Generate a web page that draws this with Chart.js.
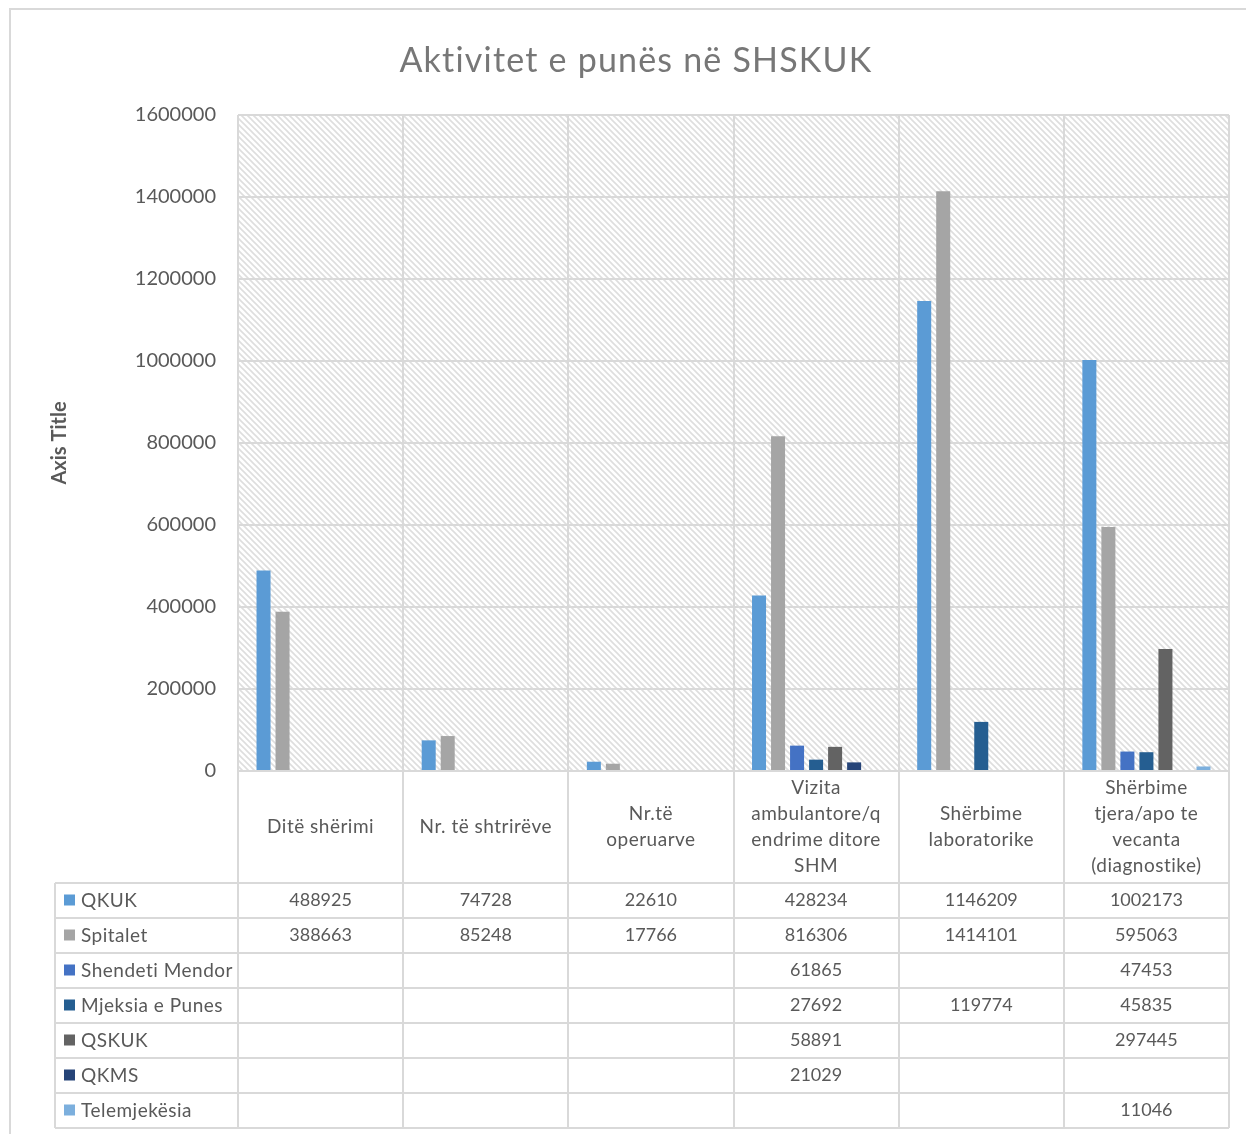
<!DOCTYPE html>
<html>
<head>
<meta charset="utf-8">
<script src="https://cdn.jsdelivr.net/npm/chart.js@4.4.1/dist/chart.umd.min.js"></script>
<style>
html,body{margin:0;padding:0;background:#fff;}
#wrap{width:1246px;height:1134px;position:relative;}
</style>
</head>
<body>
<div id="wrap"><canvas id="c" width="1246" height="1134"></canvas></div>
<script>
const chartTitle = 'Aktivitet e punës në SHSKUK';
const yAxisTitle = 'Axis Title';
const categories = [
  ['Ditë shërimi'],
  ['Nr. të shtrirëve'],
  ['Nr.të', 'operuarve'],
  ['Vizita', 'ambulantore/q', 'endrime ditore', 'SHM'],
  ['Shërbime', 'laboratorike'],
  ['Shërbime', 'tjera/apo te', 'vecanta', '(diagnostike)']
];
const seriesNames = ['QKUK', 'Spitalet', 'Shendeti Mendor', 'Mjeksia e Punes', 'QSKUK', 'QKMS', 'Telemjekësia'];
const qkuk      = [488925, 74728, 22610, 428234, 1146209, 1002173];
const spitalet  = [388663, 85248, 17766, 816306, 1414101, 595063];
const shendeti  = [null, null, null, 61865, null, 47453];
const mjeksia   = [null, null, null, 27692, 119774, 45835];
const qskuk     = [null, null, null, 58891, null, 297445];
const qkms      = [null, null, null, 21029, null, null];
const telemj    = [null, null, null, null, null, 11046];
const yTicks = [0, 200000, 400000, 600000, 800000, 1000000, 1200000, 1400000, 1600000];
const seriesColors = ['#5B9BD5', '#A5A5A5', '#4472C4', '#255E91', '#636363', '#264478', '#7CAFDD'];
const seriesData = [qkuk, spitalet, shendeti, mjeksia, qskuk, qkms, telemj];

const FONT = 'Lato, "Open Sans", sans-serif';
const TEXT = '#595959';
const GRID = '#d9d9d9';

function makeHatch(ctx){
  const s = 6;
  const c = document.createElement('canvas');
  c.width = s; c.height = s;
  const g = c.getContext('2d');
  g.fillStyle = '#ffffff'; g.fillRect(0,0,s,s);
  g.strokeStyle = '#dedede'; g.lineWidth = 1.6;
  g.beginPath();
  g.moveTo(-1,-1); g.lineTo(s+1,s+1);
  g.moveTo(s-1,-1); g.lineTo(s+1,1);
  g.moveTo(-1,s-1); g.lineTo(1,s+1);
  g.stroke();
  return ctx.createPattern(c,'repeat');
}

const TABLE_TOP = 883, ROW_H = 35, LEG_LEFT = 55;

const custom = {
  id: 'custom',
  beforeDraw(chart){
    const ctx = chart.ctx, a = chart.chartArea;
    ctx.save();
    ctx.fillStyle = '#fff';
    ctx.fillRect(0,0,chart.width,chart.height);
    ctx.strokeStyle = GRID; ctx.lineWidth = 2;
    ctx.strokeRect(10, 9, 1270, 1160);
    ctx.fillStyle = makeHatch(ctx);
    ctx.fillRect(a.left, a.top, a.right-a.left, a.bottom-a.top);
    // title
    ctx.fillStyle = '#777777';
    ctx.font = '34px ' + FONT;
    ctx.letterSpacing = '1.2px';
    ctx.textAlign = 'center'; ctx.textBaseline = 'alphabetic';
    ctx.fillText(chartTitle, 636, 72);
    ctx.restore();
  },
  afterDraw(chart){
    const ctx = chart.ctx, a = chart.chartArea, x = chart.scales.x;
    const n = categories.length;
    const half = (x.getPixelForValue(1) - x.getPixelForValue(0)) / 2;
    const tableBottom = TABLE_TOP + ROW_H * seriesNames.length;
    ctx.save();
    ctx.strokeStyle = GRID; ctx.lineWidth = 2;
    ctx.beginPath();
    for (let i = 0; i <= n; i++){
      const px = Math.round(i < n ? x.getPixelForValue(i) - half : x.getPixelForValue(n-1) + half);
      ctx.moveTo(px, a.top); ctx.lineTo(px, tableBottom);
    }
    ctx.moveTo(LEG_LEFT, TABLE_TOP); ctx.lineTo(LEG_LEFT, tableBottom);
    for (let r = 0; r <= seriesNames.length; r++){
      const py = TABLE_TOP + r * ROW_H;
      ctx.moveTo(LEG_LEFT, py); ctx.lineTo(a.right, py);
    }
    ctx.moveTo(a.left, a.bottom); ctx.lineTo(a.right, a.bottom);
    ctx.stroke();
    // category labels
    ctx.fillStyle = TEXT;
    ctx.font = '19px ' + FONT;
    ctx.letterSpacing = '0.5px';
    ctx.textAlign = 'center'; ctx.textBaseline = 'middle';
    const midY = (a.bottom + TABLE_TOP) / 2;
    const lh = 26;
    categories.forEach((lines, i) => {
      const cx = x.getPixelForValue(i);
      const start = midY - (lines.length - 1) * lh / 2;
      lines.forEach((t, k) => ctx.fillText(t, cx, start + k * lh));
    });
    // table rows
    seriesNames.forEach((name, r) => {
      const cy = TABLE_TOP + r * ROW_H + ROW_H / 2;
      ctx.fillStyle = seriesColors[r];
      ctx.fillRect(64, cy - 6, 11, 11);
      ctx.fillStyle = TEXT;
      ctx.textAlign = 'left';
      ctx.font = '19px ' + FONT;
      ctx.letterSpacing = '0.5px';
      ctx.fillText(name, 81, cy);
      ctx.textAlign = 'center';
      ctx.font = '18px ' + FONT;
      ctx.letterSpacing = '0px';
      seriesData[r].forEach((v, i) => {
        if (v !== null) ctx.fillText(String(v), x.getPixelForValue(i), cy);
      });
    });
    ctx.restore();
  }
};

new Chart(document.getElementById('c'), {
  type: 'bar',
  data: {
    labels: categories.map(l => l.join(' ')),
    datasets: seriesNames.map((name, i) => ({
      label: name,
      data: seriesData[i],
      backgroundColor: seriesColors[i],
      borderWidth: 0,
      categoryPercentage: 0.806,
      barPercentage: 0.737
    }))
  },
  options: {
    responsive: false,
    animation: false,
    devicePixelRatio: 1,
    layout: { padding: { left: 10, right: 17, top: 115, bottom: 6 } },
    plugins: { legend: { display: false }, title: { display: false }, tooltip: { enabled: false } },
    scales: {
      x: {
        grid: { display: false },
        border: { display: false },
        ticks: { display: false },
        afterFit(scale){ scale.height = 357; }
      },
      y: {
        min: 0, max: 1600000,
        afterBuildTicks(scale){ scale.ticks = yTicks.map(v => ({ value: v })); },
        grid: { color: GRID, lineWidth: 2, drawTicks: false },
        border: { display: false },
        ticks: { color: TEXT, font: { family: FONT, size: 20 }, padding: 22, callback: v => String(v) },
        title: { display: true, text: yAxisTitle, color: TEXT, font: { family: FONT, size: 20, weight: 'bold' }, padding: { top: 38, bottom: 0 } },
        afterFit(scale){ scale.width = 228; }
      }
    }
  },
  plugins: [custom]
});
</script>
</body>
</html>
